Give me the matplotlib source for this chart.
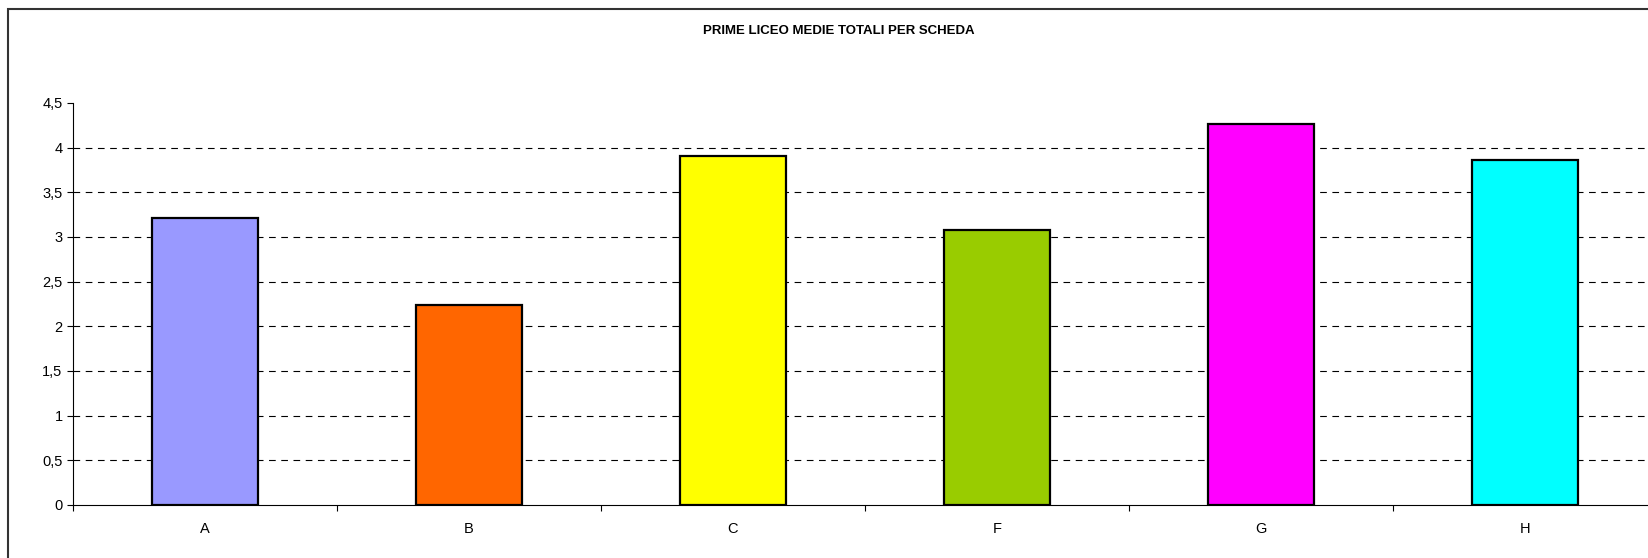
import matplotlib
matplotlib.use("Agg")
import matplotlib.pyplot as plt
from matplotlib.patches import Rectangle

# dati
categorie = ["A", "B", "C", "F", "G", "H"]
medie = [3.21, 2.24, 3.91, 3.08, 4.26, 3.86]
colori = ["#9999FF", "#FF6600", "#FFFF00", "#99CC00", "#FF00FF", "#00FFFF"]
tick_y = [0, 0.5, 1, 1.5, 2, 2.5, 3, 3.5, 4, 4.5]
etichette_y = ["0", "0,5", "1", "1,5", "2", "2,5", "3", "3,5", "4", "4,5"]

W, H = 1649, 558
fig = plt.figure(figsize=(W / 100, H / 100), dpi=100)
plt.rcParams["font.family"] = ["Liberation Sans", "DejaVu Sans"]

# cornice esterna del grafico
fig.patches.append(Rectangle((8 / W, -0.1), 1.1, 1 - 9 / H + 0.1,
                             transform=fig.transFigure, fill=False,
                             edgecolor="#333333", linewidth=1.5))

ax = fig.add_axes([73 / W, (H - 505) / H, (1657 - 73) / W, (505 - 103) / H])

x = range(len(categorie))
ax.bar(x, medie, width=0.4, color=colori, edgecolor="black", linewidth=1.6, zorder=3)

ax.set_xlim(-0.5, len(categorie) - 0.5)
ax.set_ylim(0, 4.5)
ax.set_yticks(tick_y)
ax.set_yticklabels(etichette_y, fontsize=10.5)
ax.set_xticks(list(x))
ax.set_xticklabels(categorie, fontsize=10.5)
ax.set_xticks([i + 0.5 for i in range(-1, len(categorie))], minor=True)
ax.tick_params(axis="x", which="major", length=0, pad=12.5)
ax.tick_params(axis="x", which="minor", length=4, width=0.8, direction="out")
ax.tick_params(axis="y", length=4, width=0.8, direction="out", pad=3.5)

# griglia tratteggiata
for v in tick_y[1:-1]:
    ax.axhline(v, color="black", linewidth=0.8, linestyle=(0, (6, 5)), zorder=1)

for s in ["top", "right"]:
    ax.spines[s].set_visible(False)
for s in ["left", "bottom"]:
    ax.spines[s].set_linewidth(0.8)

fig.text(839 / W, 1 - 31 / H, "PRIME LICEO MEDIE TOTALI PER SCHEDA",
         ha="center", va="center", fontsize=9.5, fontweight="bold")

fig.savefig("out.png", dpi=100)
